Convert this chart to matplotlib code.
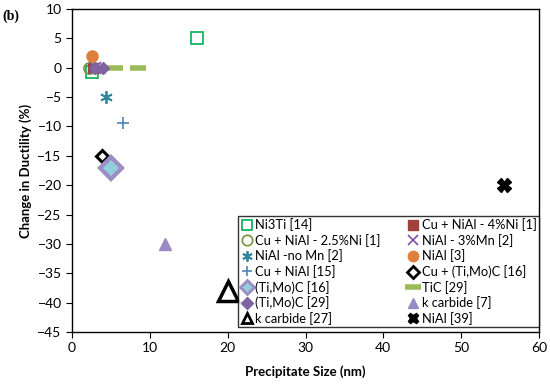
import matplotlib
matplotlib.use("Agg")
import matplotlib.pyplot as plt

plt.rcParams["font.family"] = ["Lato", "DejaVu Sans"]

# series data (precipitate size nm, change in ductility %)
labels = [
    "Ni3Ti [14]", "Cu + NiAl - 4%Ni [1]",
    "Cu + NiAl - 2.5%Ni [1]", "NiAl - 3%Mn [2]",
    "NiAl -no Mn [2]", "NiAl [3]",
    "Cu + NiAl [15]", "Cu + (Ti,Mo)C [16]",
    "(Ti,Mo)C [16]", "TiC [29]",
    "(Ti,Mo)C [29]", "k carbide [7]",
    "k carbide [27]", "NiAl [39]",
]
x_vals = [
    [16, 2.5], [2.7], [2.2], [2.9], [4.4], [2.6], [6.5], [3.9],
    [5.0], [5.5, 8.5], [3.0, 4.0], [12], [20], [55.5],
]
y_vals = [
    [5, -0.8], [0], [0], [0], [-5], [2], [-9.5], [-15],
    [-17], [0, 0], [0, 0], [-30], [-38], [-20],
]

# marker styles, one per series
styles = [
    dict(marker="s", ms=8, mfc="none", mec="#00B050", mew=1.2),
    dict(marker="s", ms=7, mfc="#A0413B", mec="#A0413B"),
    dict(marker="o", ms=8, mfc="none", mec="#77933C", mew=1.2),
    dict(marker="x", ms=8, mec="#7E4FA3", mew=1.2),
    dict(marker=(6, 2, 0), ms=9, mec="#31859C", mew=1.3),
    dict(marker="o", ms=8, mfc="#DE7F3B", mec="#DE7F3B"),
    dict(marker="+", ms=9, mec="#4F81BD", mew=1.2),
    dict(marker="D", ms=6, mfc="white", mec="black", mew=2.2),
    dict(marker="D", ms=11, mfc="#92CDDC", mec="#9C8DC5", mew=3),
    dict(marker="_", ms=11, mec="#9BBB59", mew=4),
    dict(marker="D", ms=6, mfc="#8064A2", mec="#8064A2"),
    dict(marker="^", ms=9, mfc="#9A8AC4", mec="#9A8AC4"),
    dict(marker="^", ms=15, mfc="white", mec="black", mew=2.5),
    dict(marker="X", ms=10, mfc="black", mec="black"),
]

fig = plt.figure(figsize=(5.5, 3.87), dpi=100)
ax = fig.add_axes([0.131, 0.142, 0.849, 0.835])

handles = []
for lab, xs, ys, st in zip(labels, x_vals, y_vals, styles):
    h, = ax.plot(xs, ys, linestyle="none", label=lab, **st)
    handles.append(h)

ax.set_xlim(0, 60)
ax.set_ylim(-45, 10)
ax.set_xticks(range(0, 61, 10))
ax.set_yticks(range(-45, 11, 5))
ax.tick_params(direction="out", length=4, labelsize=10, top=False, right=False)
for sp in ax.spines.values():
    sp.set_linewidth(1.0)

ax.set_xlabel("Precipitate Size (nm)", fontsize=9.5, fontweight="bold", labelpad=8)
ax.set_ylabel("Change in Ductility (%)", fontsize=9.5, fontweight="bold", labelpad=4)

# legend fills row by row like the original: reorder for column-wise fill
order = list(range(0, 14, 2)) + list(range(1, 14, 2))
leg = ax.legend(
    [handles[i] for i in order], [labels[i] for i in order],
    ncol=2, loc="lower right", bbox_to_anchor=(1.0, 0.015), fontsize=9.3,
    frameon=True, fancybox=False, edgecolor="black", borderpad=0.2,
    labelspacing=0.2, handletextpad=0.15, handlelength=1.0,
    columnspacing=2.0, borderaxespad=0.0,
)
leg.get_frame().set_linewidth(1.0)
for h in leg.legend_handles:
    if h.get_marker() == "_":
        continue
    h.set_markersize(min(h.get_markersize(), 7.5))
    if h.get_markeredgewidth() > 2:
        h.set_markeredgewidth(2)

fig.text(0.005, 0.975, "(b)", fontsize=10, fontweight="bold",
         family=["Liberation Serif", "DejaVu Serif"], va="top")

fig.savefig("out.png", dpi=100)
